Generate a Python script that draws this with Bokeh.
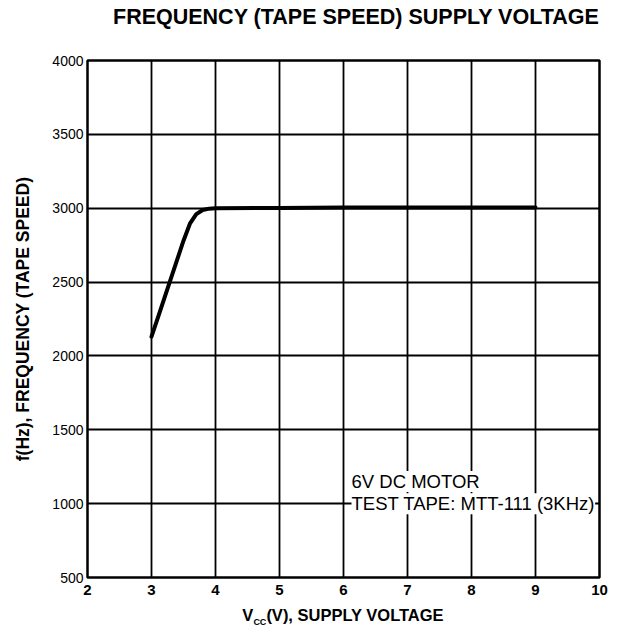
from bokeh.plotting import figure
from bokeh.models import FixedTicker, Label, Range1d, Div
from bokeh.layouts import column
from bokeh.embed import file_html
from bokeh.resources import INLINE

# Data
vcc = [3.0, 3.1, 3.2, 3.3, 3.4, 3.5, 3.6, 3.7, 3.8, 3.9, 4.0, 5.0, 6.0, 7.0, 8.0, 9.0]
freq = [2130, 2260, 2390, 2520, 2650, 2780, 2895, 2960, 2988, 2997, 3000, 3002, 3004, 3005, 3005, 3005]
x_ticks = [2, 3, 4, 5, 6, 7, 8, 9, 10]
y_ticks = [500, 1000, 1500, 2000, 2500, 3000, 3500, 4000]

title_text = "FREQUENCY (TAPE SPEED) SUPPLY VOLTAGE"
y_label = "f(Hz), FREQUENCY (TAPE SPEED)"
x_label_html = 'V<sub style="font-size:9px">CC</sub>(V), SUPPLY VOLTAGE'
note1 = "6V DC MOTOR"
note2 = "TEST TAPE: MTT-111 (3KHz)"

FONT = "Liberation Sans"

title_div = Div(text=title_text, width=500, height=30, margin=(0, 0, 0, 113),
                styles={"font-family": FONT, "font-size": "21.5px", "font-weight": "bold",
                        "color": "black", "padding-top": "5px", "line-height": "24px",
                        "white-space": "nowrap"})

p = figure(width=615, height=571, output_backend="svg", toolbar_location=None,
           x_range=Range1d(2, 10), y_range=Range1d(500, 4000),
           min_border_left=87, min_border_right=16, min_border_top=30, min_border_bottom=24)

p.background_fill_color = "white"
p.border_fill_color = "white"
p.outline_line_color = "black"
p.outline_line_width = 2.5

# axes
p.xaxis.ticker = FixedTicker(ticks=x_ticks)
p.yaxis.ticker = FixedTicker(ticks=y_ticks)
for ax in (p.xaxis, p.yaxis):
    ax.axis_line_color = None
    ax.major_tick_line_color = None
    ax.minor_tick_line_color = None
    ax.major_tick_out = 0
    ax.major_tick_in = 0
    ax.minor_tick_out = 0
    ax.major_label_text_font = FONT
    ax.major_label_text_color = "black"
p.xaxis.major_label_text_font_size = "15px"
p.yaxis.major_label_text_font_size = "14px"
p.xaxis.major_label_text_font_style = "bold"
p.yaxis.major_label_text_font_style = "normal"
p.xaxis.major_label_standoff = 7
p.yaxis.major_label_standoff = 4

p.yaxis.axis_label = y_label
p.yaxis.axis_label_text_font = FONT
p.yaxis.axis_label_text_font_style = "bold"
p.yaxis.axis_label_text_font_size = "17.5px"
p.yaxis.axis_label_text_color = "black"
p.yaxis.axis_label_standoff = 16

# grid
p.xgrid.ticker = FixedTicker(ticks=x_ticks)
p.ygrid.ticker = FixedTicker(ticks=y_ticks)
for g in (p.xgrid, p.ygrid):
    g.grid_line_color = "black"
    g.grid_line_width = 1.8
    g.grid_line_alpha = 1.0

# curve
p.line(vcc, freq, line_color="black", line_width=4, line_join="round", line_cap="round")

# notes
for txt, yy in ((note1, 1150), (note2, 1000)):
    p.add_layout(Label(x=6.125, y=yy, text=txt, text_font=FONT, text_font_size="18.5px",
                       text_color="black", text_baseline="middle", text_align="left",
                       background_fill_color="white", background_fill_alpha=1.0))

# x axis label (with subscript) as HTML text under the figure
div = Div(text=x_label_html, width=512, height=30, margin=(0, 0, 0, 87),
          styles={"font-family": FONT, "font-size": "16.5px", "font-weight": "bold",
                  "text-align": "center", "color": "black", "padding-top": "5px",
                  "line-height": "18px"})

layout = column(title_div, p, div, spacing=0)

open("out.html", "w").write(file_html(layout, INLINE))
